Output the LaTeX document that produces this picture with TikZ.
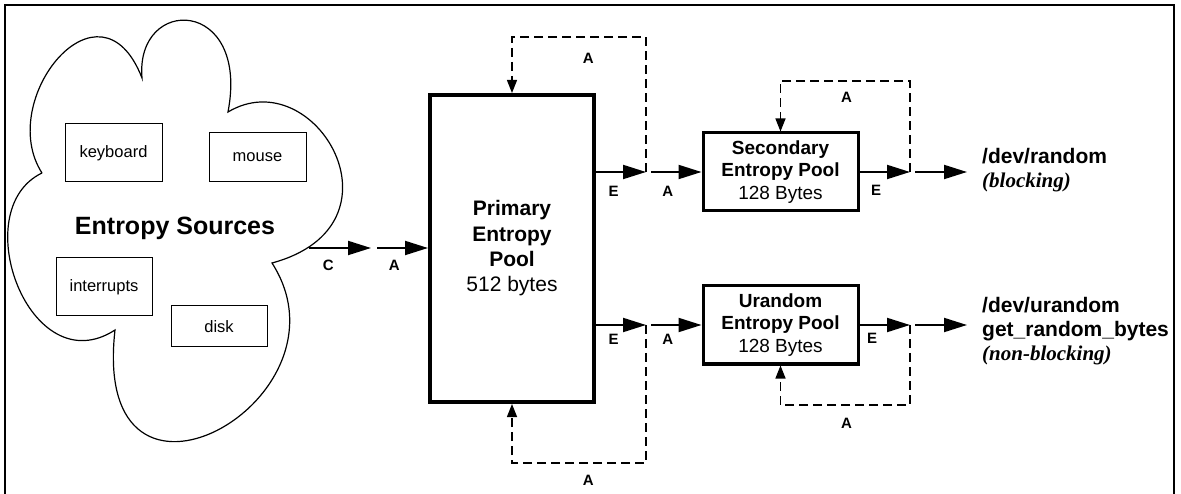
\documentclass[tikz,border=0pt]{standalone}
\usepackage{fontspec}
\setmainfont{Liberation Sans}
\newfontfamily\tmsfont{Liberation Serif}
\usetikzlibrary{arrows.meta,positioning}

\begin{document}
\begin{tikzpicture}[x=1pt, y=1pt,
  src/.style={draw, line width=1pt, inner sep=0pt, minimum width=97pt, font=\fontsize{16.5}{19}\selectfont},
  pool/.style={draw, line width=3pt, inner sep=0pt, minimum width=155pt, minimum height=78pt, align=center, font=\fontsize{19}{22.5}\selectfont},
  lbl/.style={inner sep=0pt, font=\fontsize{15}{17}\selectfont\bfseries},
  devtxt/.style={anchor=west, inner sep=0pt, align=left, font=\fontsize{21}{24}\selectfont},
  flow/.style={line width=2pt, -{Triangle[length=23pt,width=14pt]}},
  fb/.style={line width=1.4pt, dash pattern=on 9pt off 5pt, -{Triangle[length=13pt,width=10pt]}}]
  \useasboundingbox (0,0) rectangle (1181,-494);
  \draw[line width=1.6pt] (5,-494) -- (5,-5) -- (1174,-5) -- (1174,-494);

  % cloud of sources
  \coordinate (c1) at (42,-173);
  \coordinate (c2) at (142,-78);
  \coordinate (c3) at (228,-112);
  \coordinate (c4) at (272,-263);
  \coordinate (c5) at (115,-330);
  \draw[line width=1.2pt] (c1) .. controls (-5,-100) and (100,30) .. (c2)
    .. controls (135,5) and (250,3) .. (c3)
    .. controls (315,-60) and (412,-225) .. (c4)
    .. controls (360,-400) and (90,-550) .. (c5)
    .. controls (30,-385) and (-35,-210) .. (c1);

  \node[src, minimum height=58pt] (kbd) at (113.5,-153) {keyboard};
  \node[src, minimum height=49pt] (mouse) at (257.5,-157.5) {mouse};
  \node[src, minimum height=58pt, minimum width=96pt] (intr) at (104,-287) {interrupts};
  \node[src, minimum height=41pt, minimum width=96pt] (disk) at (219,-326.5) {disk};
  \node[font=\fontsize{25}{29}\selectfont\bfseries] (srcs) at (175,-228) {Entropy Sources};

  % pools
  \node[draw, line width=4pt, inner sep=0pt, minimum width=164pt, minimum height=307pt, align=center,
        font=\fontsize{21}{25.3}\selectfont] (prim) at (512,-248.5)
        {\textbf{Primary}\\\textbf{Entropy}\\\textbf{Pool}\\512 bytes};
  \node[pool] (sec) at (780.5,-172) {\textbf{Secondary}\\\textbf{Entropy Pool}\\128 Bytes};
  \node[pool, below=72pt of sec] (uran) {\textbf{Urandom}\\\textbf{Entropy Pool}\\128 Bytes};

  \node[devtxt] (rnd) at (982,-170) {\textbf{/dev/random}\\{\tmsfont\bfseries\itshape (blocking)}};
  \node[devtxt] (urnd) at (982,-331) {\textbf{/dev/urandom}\\\textbf{get\_random\_bytes}\\{\tmsfont\bfseries\itshape (non-blocking)}};

  \coordinate (cl) at (309,-248);
  \coordinate (ca) at (371,-248);
  \coordinate (ai) at (377,-248);
  \coordinate (j1) at (646,-172);
  \coordinate (j2) at (646,-325);
  \coordinate (j3) at (910,-172);
  \coordinate (j4) at (910,-325);
  \coordinate (ptop) at (646,-37);
  \coordinate (pbot) at (646,-463);
  \coordinate (stop) at (910,-81);
  \coordinate (sbot) at (910,-405);
  \coordinate (r1) at (967,-172);
  \coordinate (r2) at (967,-325);

  % connectors
  \draw[flow] (cl) -- node[lbl, below=11pt, pos=.31] {C} (ca);
  \draw[flow] (ai) -- node[lbl, below=11pt, pos=.34] {A} (prim.west |- ai);

  \draw[flow] (prim.east |- j1) -- node[lbl, below=13pt, pos=.35] {E} (j1);
  \draw[flow] ([xshift=5pt]j1) -- node[lbl, below=13pt, pos=.33] {A} (sec);
  \draw[fb] (j1) -- (ptop) -- node[lbl, below=15pt, pos=.43] {A} (prim.north |- ptop) -- (prim.north);

  \draw[flow] (prim.east |- j2) -- node[lbl, below=8pt, pos=.35] {E} (j2);
  \draw[flow] ([xshift=5pt]j2) -- node[lbl, below=8pt, pos=.33] {A} (uran);
  \draw[fb] (j2) -- (pbot) -- node[lbl, below=11pt, pos=.43] {A} (prim.south |- pbot) -- (prim.south);

  \draw[flow] (sec) -- node[lbl, below=12pt, pos=.33] {E} (j3);
  \draw[fb] (j3) -- (stop) -- node[lbl, below=10pt, pos=.49] {A} (sec.north |- stop) -- (sec.north);
  \draw[flow] ([xshift=5pt]j3) -- (r1);

  \draw[flow] (uran) -- node[lbl, below=7.5pt, pos=.25] {E} (j4);
  \draw[fb] (j4) -- (sbot) -- node[lbl, below=12pt, pos=.49] {A} (uran.south |- sbot) -- (uran.south);
  \draw[flow] ([xshift=5pt]j4) -- (r2);
\end{tikzpicture}
\end{document}
